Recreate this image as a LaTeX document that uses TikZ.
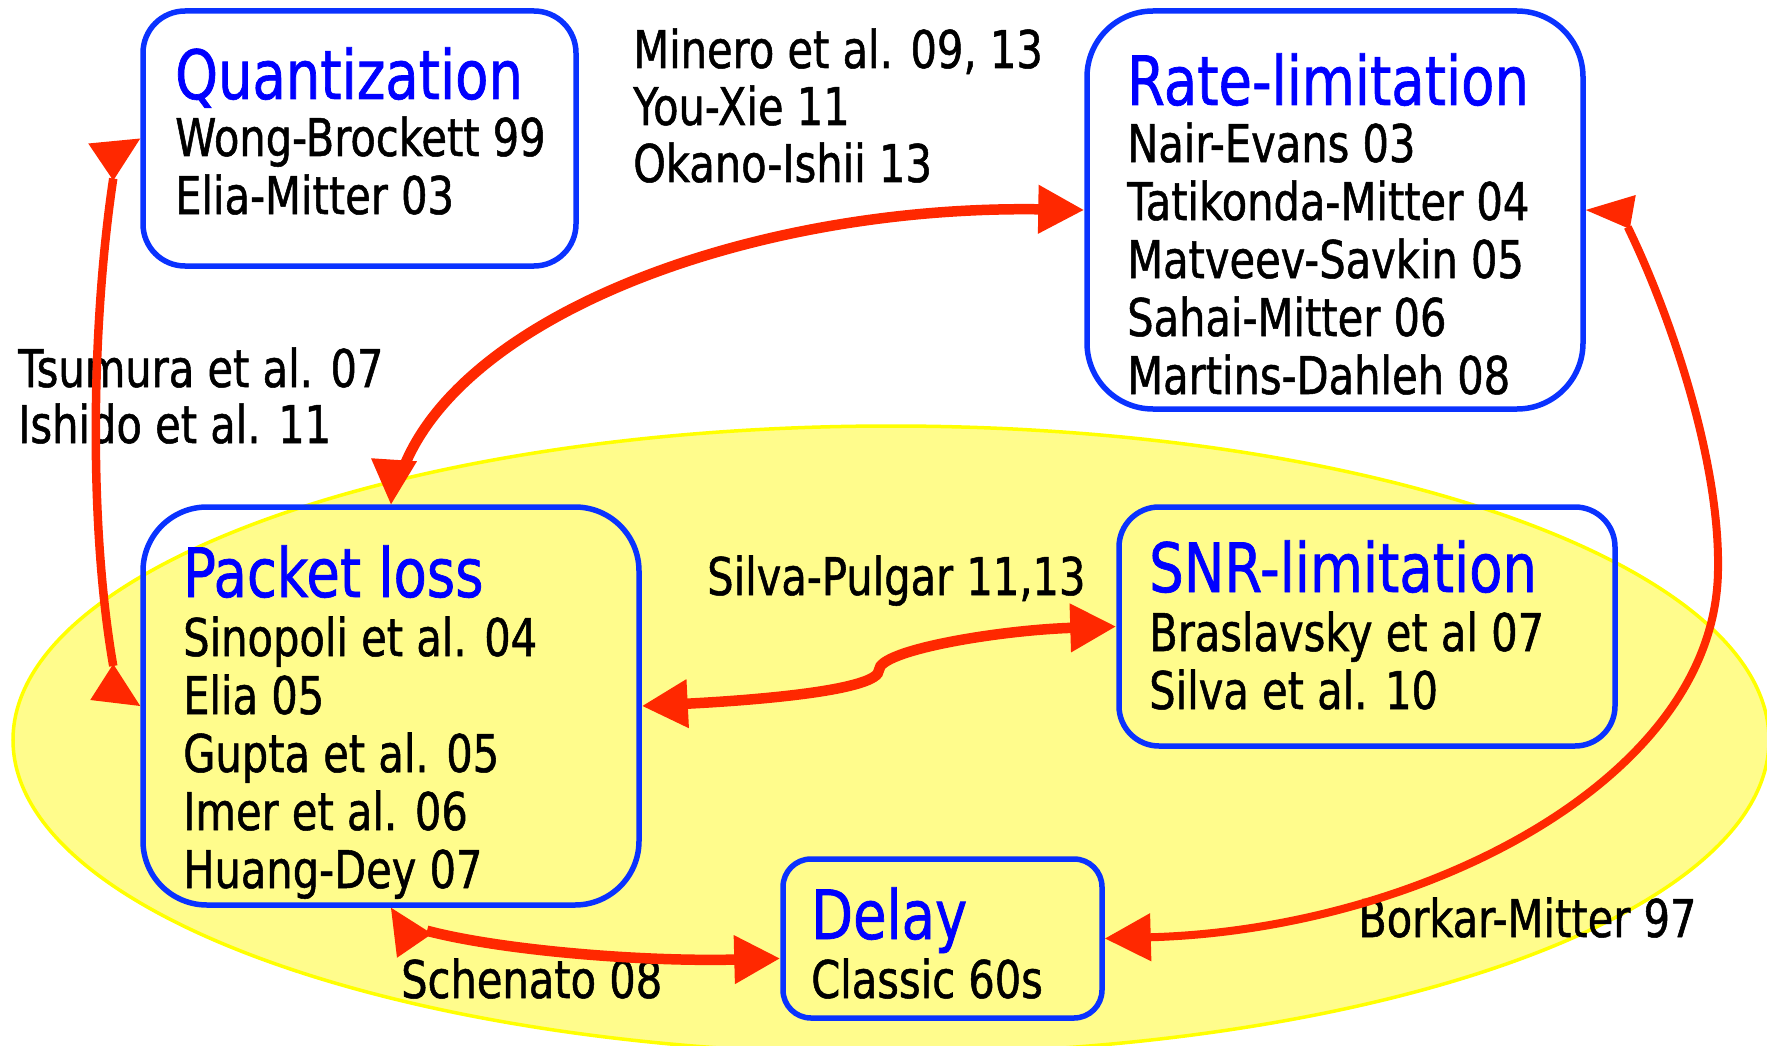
\documentclass[tikz,border=0pt]{standalone}
\usepackage{fontspec}
\setmainfont{DejaVu Sans}[FakeStretch=0.8,FakeBold=1]
\usetikzlibrary{arrows.meta}
\definecolor{linkred}{RGB}{255,40,0}
\definecolor{boxblue}{RGB}{10,50,255}
\definecolor{headblue}{RGB}{0,0,255}
\definecolor{zonefill}{RGB}{255,252,140}
\definecolor{zoneline}{RGB}{255,255,0}

\begin{document}
\begin{tikzpicture}[x=1pt,y=-1pt,
  topic/.style={draw=boxblue, line width=5.5pt, rounded corners=#1, inner sep=0pt},
  ttl/.style={anchor=base west, inner sep=0pt, text=headblue, font=\fontsize{68}{80}\selectfont},
  ref/.style={anchor=base west, inner sep=0pt, font=\fontsize{52}{60}\selectfont},
  link/.style={draw=linkred, line width=10.5pt},
  tip/.style={arrows={-Triangle[length=46pt,width=46pt]}},
  bothtips/.style={arrows={Triangle[length=46pt,width=46pt]-Triangle[length=46pt,width=46pt]}},
  head/.style={fill=linkred},
]
\useasboundingbox (0,0) rectangle (1767,1046);

% shaded region behind the lower topics
\fill[zonefill, draw=zoneline, line width=3.5pt] (891,740) ellipse [x radius=878pt, y radius=314pt];

% topic boxes
\node[topic=42pt, minimum width=433pt, minimum height=255pt] (quant) at (359.5,138.5) {};
\node[topic=66pt, minimum width=496pt, minimum height=398pt] (rate) at (1335,210) {};
\node[topic=64pt, minimum width=496pt, minimum height=398pt] (packet) at (391,706) {};
\node[topic=40pt, minimum width=496pt, minimum height=239pt] (snr) at (1367,626.5) {};
\node[topic=28pt, minimum width=319pt, minimum height=159pt] (delay) at (942.5,938.5) {};

% box contents
\node[ttl] (quant-t) at (175,99) {Quantization};
\node[ref] (quant-1) at (175,156) {Wong-Brockett 99};
\node[ref] (quant-2) at (175,214) {Elia-Mitter 03};

\node[ttl] (rate-t) at (1127,105) {Rate-limitation};
\node[ref] (rate-1) at (1127,162) {Nair-Evans 03};
\node[ref] (rate-2) at (1127,220) {Tatikonda-Mitter 04};
\node[ref] (rate-3) at (1127,278) {Matveev-Savkin 05};
\node[ref] (rate-4) at (1127,336) {Sahai-Mitter 06};
\node[ref] (rate-5) at (1127,394) {Martins-Dahleh 08};

\node[ttl] (packet-t) at (183,597) {Packet loss};
\node[ref] (packet-1) at (183,656) {Sinopoli et al. 04};
\node[ref] (packet-2) at (183,714) {Elia 05};
\node[ref] (packet-3) at (183,772) {Gupta et al. 05};
\node[ref] (packet-4) at (183,830) {Imer et al. 06};
\node[ref] (packet-5) at (183,888) {Huang-Dey 07};

\node[ttl] (snr-t) at (1149,592) {SNR-limitation};
\node[ref] (snr-1) at (1149,651) {Braslavsky et al 07};
\node[ref] (snr-2) at (1149,709) {Silva et al. 10};

\node[ttl] (delay-t) at (811,939) {Delay};
\node[ref] (delay-1) at (811,998) {Classic 60s};

% connector labels
\node[ref] (lab-qr1) at (633,68) {Minero et al. 09, 13};
\node[ref] (lab-qr2) at (633,125) {You-Xie 11};
\node[ref] (lab-qr3) at (633,182) {Okano-Ishii 13};
\node[ref] (lab-qp1) at (18,387) {Tsumura et al. 07};
\node[ref] (lab-qp2) at (18,443) {Ishido et al. 11};
\node[ref] (lab-ps) at (707,595) {Silva-Pulgar 11,13};
\node[ref] (lab-pd) at (401,998) {Schenato 08};
\node[ref] (lab-rd) at (1358,937) {Borkar-Mitter 97};

% Quantization <-> Packet loss (heads set at the box edges, shaft joins a corner)
\draw[link, line width=8.5pt] ([shift={(-27,40)}]quant.west)
  .. controls (92,320) and (88,520) .. ([shift={(-27,-40)}]packet.west);
\fill[head] (quant.west) -- ++(-52,5) -- ++(25,37) -- cycle;
\fill[head] (packet.west) -- ++(-50,-6) -- ++(23,-36) -- cycle;

% Packet loss <-> Rate-limitation
\draw[link, tip] ([shift={(14,-40)}]packet.north)
  .. controls (470,310) and (760,205) .. (rate.west);
\fill[head] (packet.north) -- ++(-20,-46) -- ++(46,3) -- cycle;

% Packet loss <-> SNR-limitation
\draw[link, bothtips] (packet.east) .. controls (760,700) and (879,690) .. (879,670)
  .. controls (879,650) and (1000,630) .. (snr.west);

% Packet loss <-> Delay
\draw[link, tip] ([shift={(36,23)}]packet.south)
  .. controls (500,950) and (640,962) .. (delay.187.7);
\fill[head] (packet.south) -- ++(6,50) -- ++(35,-24) -- cycle;

% Rate-limitation <-> Delay
\draw[link, line width=8pt, tip] ([shift={(42,17)}]rate.east)
  .. controls (1670,314) and (1720,460) .. (1718,570)
  .. controls (1716,780) and (1420,930) .. (delay.east);
\fill[head] (rate.east) -- ++(50,-15) -- ++(-6,34) -- cycle;
\end{tikzpicture}
\end{document}
